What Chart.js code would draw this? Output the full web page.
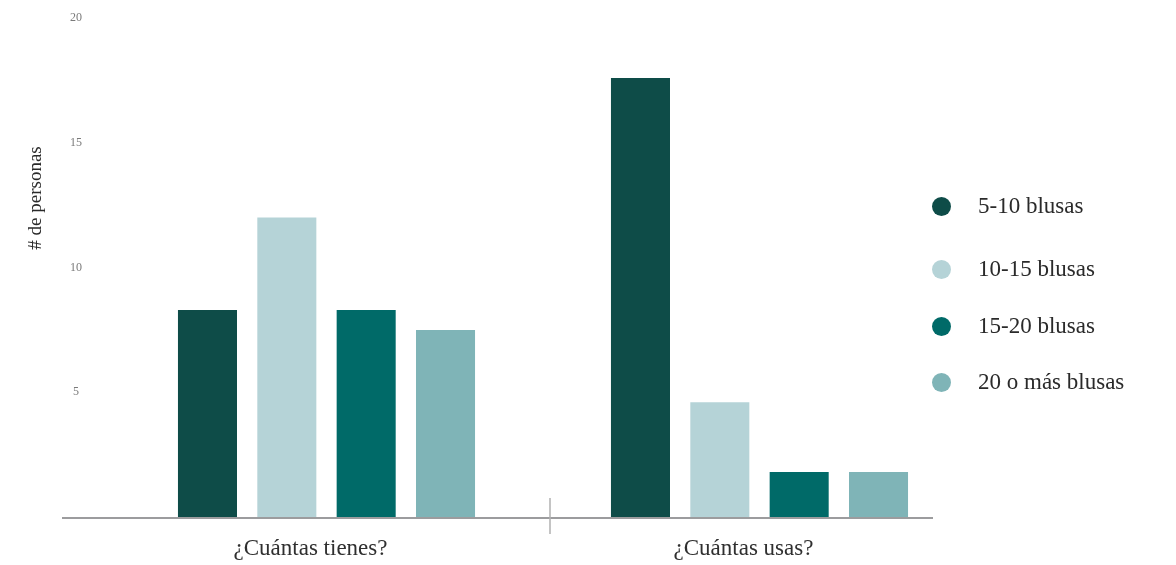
<!DOCTYPE html>
<html>
<head>
<meta charset="utf-8">
<script src="https://cdn.jsdelivr.net/npm/chart.js@4/dist/chart.umd.min.js"></script>
<style>
  html, body { margin: 0; padding: 0; background: #ffffff; }
  #wrap { position: relative; width: 1176px; height: 565px; }
  canvas { position: absolute; left: 0; top: 0; }
  .leg { position: absolute; left: 932px; font-family: "Liberation Serif", serif; font-size: 23px; color: #2a2a2a; display: flex; align-items: center; white-space: nowrap; }
  .leg .dot { width: 19px; height: 19px; border-radius: 50%; margin-right: 27px; }
</style>
</head>
<body>
<div id="wrap">
  <canvas id="c" width="1176" height="565"></canvas>
  <div id="legend"></div>
</div>
<script>
const categories = ["¿Cuántas tienes?", "¿Cuántas usas?"];
const seriesNames = ["5-10 blusas", "10-15 blusas", "15-20 blusas", "20 o más blusas"];
const s5a10 = [8.3, 17.6];
const s10a15 = [12.0, 4.6];
const s15a20 = [8.3, 1.8];
const s20mas = [7.5, 1.8];
const seriesColors = ["#0e4c48", "#b5d3d7", "#006a68", "#7fb4b7"];
const yTicks = [5, 10, 15, 20];
const yTitle = "# de personas";
const legendY = [206, 269, 326, 382];

const seriesData = [s5a10, s10a15, s15a20, s20mas];

const serif = '"Liberation Serif", serif';

const decor = {
  id: 'decor',
  afterDatasetsDraw(chart) {
    const ctx = chart.ctx;
    const x = chart.scales.x, y = chart.scales.y;
    const y0 = y.getPixelForValue(0);
    ctx.save();
    // baseline
    ctx.strokeStyle = '#9c9c9e';
    ctx.lineWidth = 2;
    ctx.beginPath();
    ctx.moveTo(chart.chartArea.left - 48, y0 + 1);
    ctx.lineTo(chart.chartArea.right - 43, y0 + 1);
    ctx.stroke();
    // separator between categories
    const mid = (x.getPixelForValue(0) + x.getPixelForValue(1)) / 2;
    ctx.strokeStyle = '#b0b0b0';
    ctx.lineWidth = 1.5;
    ctx.beginPath();
    ctx.moveTo(mid + 7, y0 - 19);
    ctx.lineTo(mid + 7, y0 + 17);
    ctx.stroke();
    // y title
    ctx.translate(36, 198);
    ctx.rotate(-Math.PI / 2);
    ctx.fillStyle = '#2a2a2a';
    ctx.font = '19px ' + serif;
    ctx.textAlign = 'center';
    ctx.textBaseline = 'middle';
    ctx.fillText(yTitle, 0, 0);
    ctx.restore();
  }
};

function zeroPad(s) { s.paddingTop = 0; s.paddingBottom = 0; s.paddingLeft = 0; s.paddingRight = 0; }

new Chart(document.getElementById('c'), {
  type: 'bar',
  data: {
    labels: categories,
    datasets: seriesNames.map((n, i) => ({
      label: n,
      data: seriesData[i],
      backgroundColor: seriesColors[i],
      borderWidth: 0,
      categoryPercentage: 0.733,
      barPercentage: 0.744
    }))
  },
  options: {
    responsive: false,
    animation: false,
    layout: { padding: { left: 0, right: 200, top: 18, bottom: 0 } },
    plugins: { legend: { display: false }, tooltip: { enabled: false } },
    scales: {
      x: {
        grid: { display: false },
        border: { display: false },
        ticks: { color: '#2f2f2f', font: { family: serif, size: 23 }, padding: 10, labelOffset: -16 },
        afterFit(s) { s.height = 48; zeroPad(s); }
      },
      y: {
        min: 0, max: 20,
        grid: { display: false, drawTicks: false },
        border: { display: false },
        afterBuildTicks(s) { s.ticks = yTicks.map(v => ({ value: v })); },
        ticks: { color: '#7a7a7a', font: { family: serif, size: 12 }, padding: 28, crossAlign: 'center' },
        afterFit(s) { s.width = 110; zeroPad(s); }
      }
    }
  },
  plugins: [decor]
});

const legend = document.getElementById('legend');
seriesNames.forEach((n, i) => {
  const d = document.createElement('div');
  d.className = 'leg';
  d.style.top = (legendY[i] - 14) + 'px';
  d.style.height = '28px';
  d.innerHTML = '<span class="dot" style="background:' + seriesColors[i] + '"></span><span>' + n + '</span>';
  legend.appendChild(d);
});
</script>
</body>
</html>
